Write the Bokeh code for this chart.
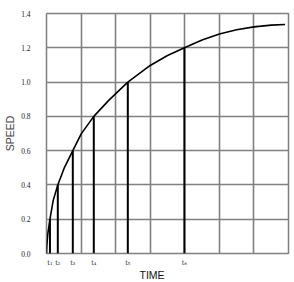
from bokeh.plotting import figure
from bokeh.models import FixedTicker, PrintfTickFormatter, Range1d, Title
from bokeh.embed import file_html
from bokeh.resources import INLINE

# speed curve read along its length (time in grid units, speed)
curve_time = [0, 0.01, 0.038, 0.1, 0.194, 0.327, 0.521, 0.761, 1.004, 1.368, 1.8,
              2.352, 3.0, 3.5, 3.99, 4.5, 5.0, 5.5, 6.0, 6.5, 6.9]
curve_speed = [0, 0.05, 0.115, 0.2, 0.31, 0.4, 0.503, 0.6, 0.698, 0.8, 0.893,
               1.0, 1.097, 1.155, 1.2, 1.245, 1.28, 1.305, 1.322, 1.332, 1.336]

# marked instants and the speed reached at each
mark_time = [0.1, 0.327, 0.761, 1.368, 2.352, 3.99]
mark_speed = [0.2, 0.4, 0.6, 0.8, 1.0, 1.2]
mark_labels = ["t₁", "t₂", "t₃", "t₄", "t₅", "t₆"]

speed_ticks = [0.0, 0.2, 0.4, 0.6, 0.8, 1.0, 1.2, 1.4]
time_grid = [0, 1, 2, 3, 4, 5, 6, 7]

p = figure(width=294, height=282, output_backend="svg", toolbar_location=None,
           x_range=Range1d(0, 7), y_range=Range1d(0, 1.4),
           min_border_left=46, min_border_right=6, min_border_top=13, min_border_bottom=29)
p.background_fill_color = "white"
p.border_fill_color = "white"
p.outline_line_color = "#808080"
p.outline_line_width = 1.5

# grid
p.xgrid.ticker = FixedTicker(ticks=time_grid)
p.ygrid.ticker = FixedTicker(ticks=speed_ticks)
for g in (p.xgrid, p.ygrid):
    g.grid_line_color = "#808080"
    g.grid_line_width = 1.6
    g.grid_line_alpha = 1.0

# axes
p.yaxis.ticker = FixedTicker(ticks=speed_ticks)
p.yaxis.formatter = PrintfTickFormatter(format="%.1f")
p.xaxis.ticker = FixedTicker(ticks=mark_time)
p.xaxis.major_label_overrides = {t: l for t, l in zip(mark_time, mark_labels)}
for ax in (p.xaxis, p.yaxis):
    ax.axis_line_color = None
    ax.major_tick_line_color = None
    ax.minor_tick_line_color = None
    ax.major_tick_out = 0
    ax.major_tick_in = 0
    ax.major_label_text_color = "#222222"
p.yaxis.major_label_text_font = "Liberation Serif"
p.yaxis.major_label_text_font_size = "7.5px"
p.yaxis.major_label_standoff = 16
p.xaxis.major_label_text_font = "DejaVu Serif"
p.xaxis.major_label_text_font_size = "6.5px"
p.xaxis.major_label_standoff = 5

p.yaxis.axis_label = "SPEED"
p.yaxis.axis_label_text_font = "Liberation Sans"
p.yaxis.axis_label_text_font_style = "normal"
p.yaxis.axis_label_text_font_size = "10.5px"
p.yaxis.axis_label_standoff = 2

# vertical lines from the axis to the curve
p.segment(x0=mark_time, y0=[0] * len(mark_time), x1=mark_time, y1=mark_speed,
          line_color="black", line_width=2)

p.line(curve_time, curve_speed, line_color="black", line_width=1.6)

p.add_layout(Title(text="TIME", align="left", offset=93, standoff=-5,
                   text_font="Liberation Sans", text_font_size="10.5px",
                   text_font_style="normal", text_color="#111111"), "below")

open("out.html", "w").write(file_html(p, INLINE))
